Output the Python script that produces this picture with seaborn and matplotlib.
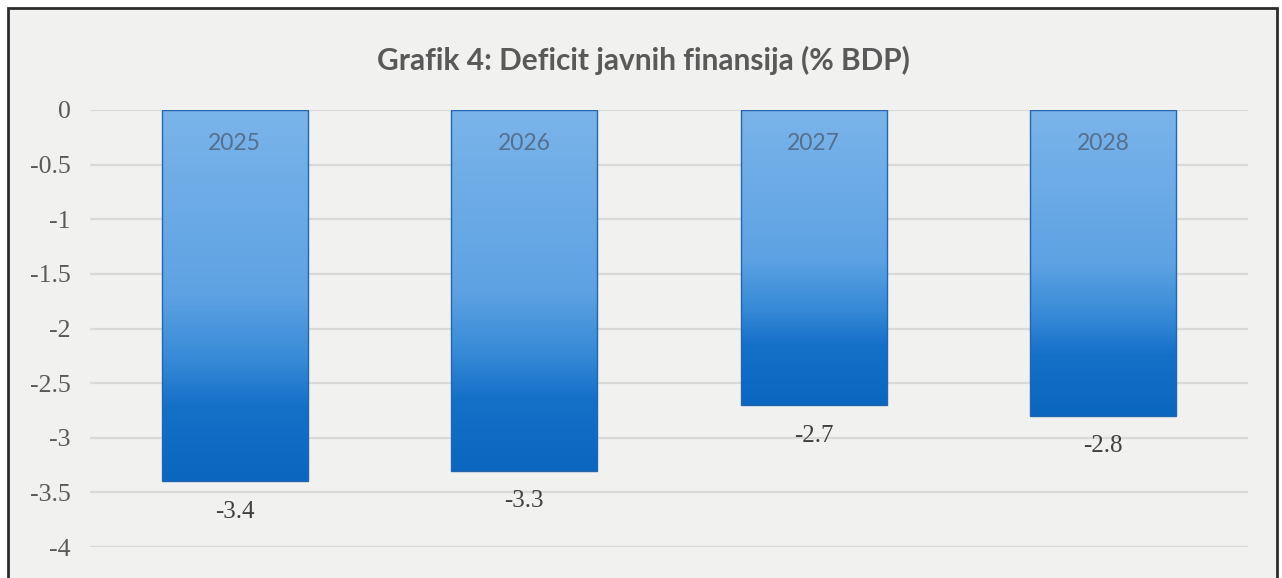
import numpy as np
import pandas as pd
import matplotlib
matplotlib.use("Agg")
import matplotlib.pyplot as plt
import seaborn as sns
from matplotlib.colors import LinearSegmentedColormap
from matplotlib.patches import Rectangle

# ---- data ----
years = ["2025", "2026", "2027", "2028"]
deficit = [-3.4, -3.3, -2.7, -2.8]
ytick_values = [0, -0.5, -1, -1.5, -2, -2.5, -3, -3.5, -4]
ytick_labels = ["0", "-0.5", "-1", "-1.5", "-2", "-2.5", "-3", "-3.5", "-4"]
value_labels = ["-3.4", "-3.3", "-2.7", "-2.8"]
title = "Grafik 4: Deficit javnih finansija (% BDP)"

sns.set_theme(style="white")
plt.rcParams["axes.unicode_minus"] = False

W, H = 1282, 578
bg = "#f1f1ef"
fig = plt.figure(figsize=(W / 100, H / 100), dpi=100, facecolor="white")

# scanned page background inside the frame
fig.add_artist(Rectangle((8 / W, -0.02), (1277 - 8) / W, (H - 8) / H + 0.02,
                         transform=fig.transFigure, facecolor=bg,
                         edgecolor="#2b2b2b", lw=2, zorder=0))

ax = fig.add_axes([90 / W, 1 - 547 / H, (1248 - 90) / W, (547 - 110) / H])
ax.set_facecolor("none")

df = pd.DataFrame({"year": years, "value": deficit})
sns.barplot(data=df, x="year", y="value", ax=ax, width=0.505,
            color="#3f8fd8", saturation=1, edgecolor="#2466ad", linewidth=1)

# vertical gradient fill (light top -> dark bottom)
cmap = LinearSegmentedColormap.from_list(
    "grad", [(0.0, "#7ab4ea"), (0.5, "#5ea2e3"), (0.68, "#3589d6"),
             (0.8, "#1570c8"), (1.0, "#0b66c0")])
grad = np.linspace(0, 1, 256).reshape(-1, 1)
for p in list(ax.patches):
    x0, w = p.get_x(), p.get_width()
    y0, h = p.get_y(), p.get_height()
    top, bot = max(y0, y0 + h), min(y0, y0 + h)
    im = ax.imshow(grad, cmap=cmap, aspect="auto", origin="upper",
                   extent=[x0, x0 + w, bot, top], zorder=p.get_zorder() + 0.1)
    im.set_clip_path(p)
    p.set_facecolor("none")
    p.set_zorder(p.get_zorder() + 0.2)

ax.set_xlim(-0.5, 3.5)
ax.set_ylim(-4, 0)
ax.set_yticks(ytick_values)
ax.set_yticklabels(ytick_labels, fontfamily="Liberation Serif", fontsize=18.5, color="#595959")
ax.yaxis.grid(True, color="#d9d9d7", lw=1.6)
ax.xaxis.grid(False)
ax.set_axisbelow(True)
for s in ax.spines.values():
    s.set_visible(False)
ax.set_xticks([])
ax.set_xlabel("")
ax.set_ylabel("")
ax.tick_params(axis="y", length=0, pad=14)

for i, (yr, v, lab) in enumerate(zip(years, deficit, value_labels)):
    ax.annotate(yr, xy=(i, 0), xytext=(0, -24), textcoords="offset points",
                ha="center", va="center", fontsize=16.5, fontfamily="Lato",
                color="#55708f", zorder=10)
    ax.annotate(lab, xy=(i, v), xytext=(0, -22), textcoords="offset points",
                ha="center", va="center", fontsize=18, fontfamily="Liberation Serif",
                color="#404040", zorder=10)

fig.text(643 / W, 1 - 60 / H, title, ha="center", va="center",
         fontsize=21.5, fontweight="bold", fontfamily="Lato", color="#595959")

fig.savefig("out.png", dpi=100, facecolor=fig.get_facecolor())
